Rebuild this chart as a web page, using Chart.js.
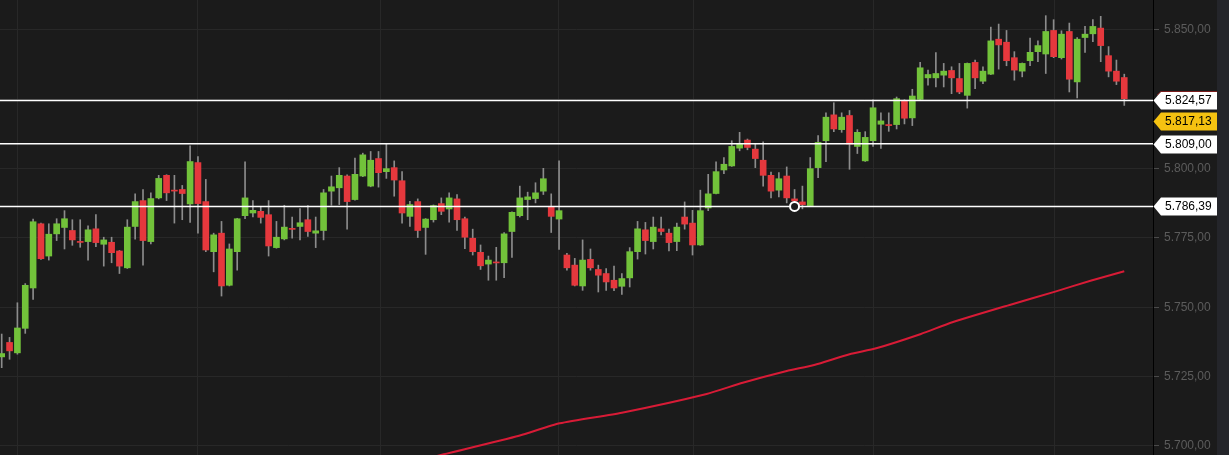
<!DOCTYPE html>
<html><head><meta charset="utf-8">
<script src="https://cdn.jsdelivr.net/npm/chart.js@4.4.0/dist/chart.umd.min.js"></script>
<style>html,body{margin:0;padding:0;background:#1b1b1b;overflow:hidden}canvas{display:block}</style>
</head><body>
<canvas id="c" width="1229" height="455"></canvas>
<script>
// ---- data ----
const opens=[5732.12,5737.33,5733.58,5742.42,5756.97,5780.12,5768.48,5776.48,5778.79,5777.70,
5773.50,5773.70,5778.30,5772.73,5773.45,5770.30,5764.24,5779.15,5788.48,5773.70,
5789.45,5797.58,5792.00,5792.48,5787.27,5802.18,5788.12,5770.06,5776.73,5757.94,
5770.06,5783.03,5784.00,5784.61,5783.39,5771.52,5774.67,5778.20,5779.15,5781.58,
5776.73,5777.70,5791.88,5793.09,5797.33,5788.85,5797.33,5793.70,5803.64,5798.91,
5800.36,5795.64,5782.79,5788.12,5778.79,5781.58,5787.39,5785.45,5789.09,5781.94,
5774.91,5769.82,5765.58,5766.10,5766.06,5777.33,5783.03,5788.85,5789.21,5791.88,
5786.42,5781.82,5768.85,5765.21,5757.70,5767.27,5763.64,5762.18,5759.76,5757.58,
5760.61,5770.06,5777.94,5773.70,5778.30,5776.73,5773.70,5782.55,5780.36,5772.48,
5785.82,5791.03,5799.52,5800.97,5807.39,5810.30,5807.03,5803.03,5797.58,5792.24,
5797.33,5789.09,5788.00,5786.67,5800.36,5810.06,5819.39,5814.06,5819.15,5808.00,
5802.79,5810.06,5816.00,5815.88,5815.88,5824.61,5818.30,5824.97,5832.73,5832.73,
5833.70,5835.39,5832.48,5826.42,5838.30,5831.52,5834.06,5846.67,5845.58,5840.00,
5835.15,5838.91,5842.18,5841.33,5849.82,5840.00,5849.45,5831.27,5847.27,5848.61,
5850.67,5840.73,5835.15,5832.85];
const highs=[5740.36,5739.15,5751.64,5758.55,5781.82,5780.40,5780.12,5781.94,5784.85,5781.58,
5781.58,5779.39,5783.39,5775.27,5775.27,5770.50,5781.58,5790.91,5792.48,5791.27,
5797.58,5797.80,5797.58,5793.94,5808.24,5804.36,5796.12,5776.73,5780.97,5772.85,
5782.10,5802.42,5788.48,5786.42,5788.48,5780.97,5786.79,5782.55,5785.58,5786.67,
5782.55,5792.48,5797.33,5800.36,5797.80,5803.76,5805.58,5806.18,5806.18,5809.09,
5802.79,5798.91,5788.24,5789.09,5782.00,5786.90,5789.45,5791.27,5790.67,5782.55,
5778.18,5772.48,5768.48,5771.64,5776.97,5784.40,5793.70,5791.52,5794.91,5800.12,
5790.91,5802.79,5769.45,5767.64,5774.30,5771.03,5765.21,5764.00,5764.85,5762.18,
5771.52,5780.97,5780.61,5782.55,5782.55,5778.18,5780.36,5788.00,5784.97,5792.24,
5797.94,5802.42,5804.00,5810.06,5813.09,5810.67,5808.85,5809.70,5798.79,5798.55,
5800.61,5792.48,5793.70,5804.00,5811.88,5820.12,5823.76,5820.12,5820.97,5814.06,
5813.33,5824.85,5820.12,5820.12,5825.82,5824.85,5828.61,5838.30,5835.52,5841.82,
5837.94,5836.73,5837.94,5838.10,5839.15,5836.73,5851.03,5852.12,5849.82,5842.18,
5838.10,5847.03,5846.06,5855.15,5853.70,5849.70,5852.48,5847.27,5851.27,5853.70,
5854.91,5844.00,5839.15,5834.06];
const lows=[5728.24,5731.27,5733.09,5740.61,5752.85,5767.27,5767.03,5774.06,5771.03,5772.36,
5771.64,5767.03,5771.88,5764.85,5766.06,5762.18,5764.00,5774.55,5765.21,5772.85,
5789.09,5788.48,5780.36,5781.58,5780.61,5776.73,5770.06,5762.79,5754.06,5757.70,
5763.39,5781.94,5782.55,5780.36,5768.48,5771.30,5774.30,5774.91,5774.30,5775.52,
5771.52,5774.30,5786.79,5787.03,5778.18,5788.60,5797.10,5793.45,5793.33,5796.48,
5790.06,5780.36,5779.15,5775.15,5769.09,5780.73,5783.39,5780.73,5777.70,5771.15,
5768.85,5763.64,5759.76,5759.76,5760.73,5768.00,5782.55,5781.58,5787.64,5790.67,
5776.97,5770.91,5763.39,5757.70,5756.12,5763.39,5755.52,5756.12,5756.00,5754.67,
5757.33,5767.39,5769.21,5771.03,5776.12,5770.30,5770.42,5778.18,5768.85,5772.30,
5784.85,5790.90,5798.18,5800.80,5806.42,5806.79,5800.36,5793.70,5789.45,5789.82,
5787.64,5786.39,5785.50,5786.50,5796.73,5802.55,5813.33,5813.09,5799.76,5805.45,
5802.60,5808.00,5807.27,5813.45,5814.30,5816.12,5815.52,5824.80,5830.06,5829.45,
5829.45,5827.03,5827.03,5821.82,5828.85,5830.67,5833.90,5835.88,5837.09,5831.88,
5833.09,5837.09,5838.55,5834.30,5840.00,5839.52,5827.64,5825.45,5841.94,5845.82,
5838.55,5833.09,5830.30,5822.79];
const closes=[5733.33,5734.30,5742.55,5757.94,5780.85,5767.52,5776.36,5780.12,5781.94,5774.30,
5773.40,5777.94,5773.33,5774.30,5769.70,5764.85,5778.91,5788.12,5774.06,5789.21,
5796.48,5791.27,5791.90,5791.03,5802.55,5787.39,5770.67,5776.12,5757.70,5771.03,
5781.94,5789.45,5784.97,5782.42,5772.12,5775.27,5778.91,5778.10,5780.48,5777.33,
5777.58,5791.27,5793.45,5797.58,5788.12,5797.94,5804.97,5803.03,5798.55,5800.00,
5795.88,5784.00,5787.03,5777.70,5781.82,5786.67,5784.61,5789.45,5781.58,5775.27,
5770.06,5764.97,5767.03,5766.00,5776.48,5784.24,5789.45,5789.82,5791.27,5796.36,
5782.79,5784.85,5764.24,5757.94,5767.03,5764.24,5761.58,5759.15,5756.97,5760.36,
5770.06,5778.30,5774.06,5778.91,5777.33,5773.33,5778.91,5780.00,5772.48,5784.85,
5790.91,5798.91,5801.58,5808.00,5809.09,5807.64,5803.64,5797.58,5791.88,5796.36,
5789.45,5788.36,5787.03,5800.00,5809.45,5818.55,5814.30,5818.55,5808.85,5813.09,
5811.27,5821.94,5817.21,5815.52,5825.21,5818.18,5826.18,5836.36,5833.94,5834.30,
5835.15,5832.73,5827.64,5837.94,5832.73,5835.15,5846.06,5844.61,5838.91,5835.52,
5837.94,5841.94,5844.36,5849.45,5840.36,5848.48,5832.24,5846.67,5848.48,5851.27,
5844.36,5835.15,5831.52,5825.21];
// moving average: candle position (index) and value, read at points along the red line
const maIdx=[54.5,56.3,65.9,71.1,79.0,89.8,94.4,100.0,103.5,108.0,111.4,117.1,121.1,128.4,134.2,138.7,143.0];
const maVals=[5695.7,5697.0,5703.7,5708.2,5712.0,5718.75,5722.8,5727.05,5729.2,5733.07,5735.23,5740.4,5744.6,5750.85,5755.65,5759.6,5763.0];
const levelValues=[5824.57,5809.00,5786.39];
const lastPrice=5817.13;
const markerIdx=101, markerVal=5786.39;
const yTickValues=[5700,5725,5750,5775,5800,5825,5850];
const xGridIdx=[1.95,24.9,48.3,70.9,88.1,111.0,134.1];

// ---- styles ----
const BG='#1b1b1b', GRID='#282828';
const GREEN='#72c23a', RED='#e5383d', WICK='#8c8c8c';
const FONT='Arial, "Liberation Sans", sans-serif';
const X_MIN=-0.2166, X_MAX=146.66;

function fmt(v){
  const s=Number(v).toFixed(2); const p=s.split('.');
  return p[0].replace(/\B(?=(\d{3})+(?!\d))/g,'.')+','+p[1];
}

const colors=opens.map((o,i)=>closes[i]>=o?GREEN:RED);

const bgPlugin={id:'bg',beforeDraw(chart){
  const c=chart.ctx; c.save(); c.fillStyle=BG; c.fillRect(0,0,chart.width,chart.height);
  c.fillStyle='#24252a'; c.fillRect(1217,0,chart.width-1217,chart.height); c.restore();
}};
const tagPlugin={id:'tags',afterDraw(chart){
  const c=chart.ctx, ys=chart.scales.y, ax=ys.left;
  function tag(v,fill,edge){
    const y=Math.round(ys.getPixelForValue(v));
    c.save();
    c.beginPath(); c.moveTo(ax+0.5,y+0.5); c.lineTo(ax+8,y-8.5); c.lineTo(ax+64,y-8.5);
    c.lineTo(ax+64,y+9.5); c.lineTo(ax+8,y+9.5); c.closePath();
    c.fillStyle=fill; c.fill();
    if(edge){c.strokeStyle=edge;c.lineWidth=1;c.beginPath();c.moveTo(ax+4,y-5);c.lineTo(ax+8,y-8.5);c.lineTo(ax+64,y-8.5);c.stroke();}
    c.fillStyle='#000'; c.font='12px '+FONT; c.textBaseline='middle'; c.textAlign='left';
    c.fillText(fmt(v),ax+12,y+1);
    c.restore();
  }
  tag(levelValues[0],'#ffffff','#7a1c1c');
  tag(lastPrice,'#f5c211');
  tag(levelValues[1],'#ffffff');
  tag(levelValues[2],'#ffffff');
}};

const datasets=[];
levelValues.forEach(v=>datasets.push({type:'line',data:[{x:X_MIN-1,y:v},{x:X_MAX+1,y:v}],
  borderColor:'#ffffff',borderWidth:1.5,pointRadius:0,order:0}));
datasets.push({type:'line',data:[{x:markerIdx,y:markerVal}],showLine:false,pointRadius:4.5,
  pointBorderWidth:2,pointBorderColor:'#ffffff',pointBackgroundColor:BG,order:-1});
datasets.push({type:'line',data:maIdx.map((x,i)=>({x:x,y:maVals[i]})),borderColor:'#d81b36',
  borderWidth:2,pointRadius:0,tension:0.2,order:3});
datasets.push({type:'bar',data:opens.map((o,i)=>({x:i,y:[o,closes[i]]})),backgroundColor:colors,
  barThickness:6,minBarLength:1,grouped:false,order:1});
datasets.push({type:'bar',data:lows.map((l,i)=>({x:i,y:[l,highs[i]]})),backgroundColor:WICK,
  barThickness:1,grouped:false,order:2});

new Chart(document.getElementById('c'),{
  type:'bar',
  data:{datasets},
  options:{
    responsive:false,animation:false,events:[],
    layout:{padding:0,autoPadding:false},
    plugins:{legend:{display:false},tooltip:{enabled:false}},
    scales:{
      x:{type:'linear',min:X_MIN,max:X_MAX,offset:false,
        grid:{color:GRID,offset:false,drawTicks:false},
        ticks:{display:false},border:{display:false},
        afterBuildTicks(s){s.ticks=xGridIdx.map(v=>({value:v}));},
        afterFit(s){s.height=0;s.paddingLeft=0;s.paddingRight=0;}},
      y:{position:'right',min:5696.75,max:5860.8,
        grid:{color:GRID,tickColor:'#4a4a4a',tickLength:6,drawTicks:true},
        border:{display:true,color:'#000000',width:1},
        ticks:{color:'#5c5c5c',font:{family:FONT,size:12},padding:5,callback:v=>fmt(v)},
        afterBuildTicks(s){s.ticks=yTickValues.map(v=>({value:v}));},
        afterFit(s){s.width=76;s.paddingTop=0;s.paddingBottom=0;}}
    }
  },
  plugins:[bgPlugin,tagPlugin]
});
</script>
</body></html>
